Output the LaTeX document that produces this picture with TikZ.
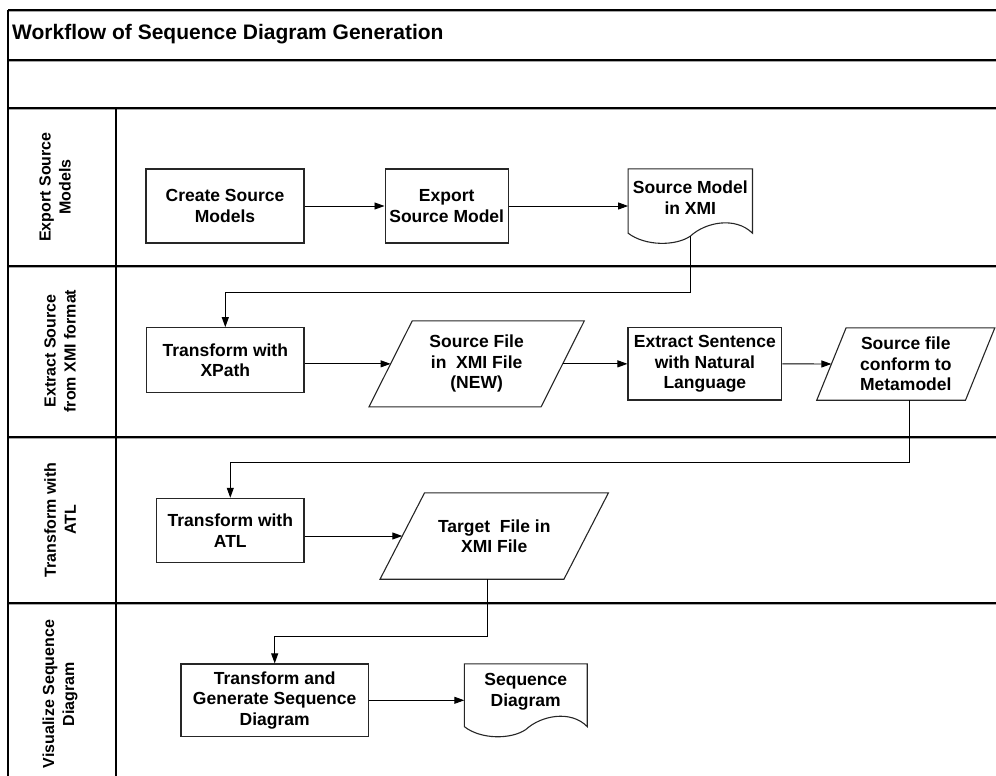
\documentclass[tikz,border=0pt]{standalone}
\usepackage{fontspec}
\setmainfont{Liberation Sans}
\usetikzlibrary{arrows.meta,calc}

% outline of a parallelogram (data) around an invisible node; #2 = horizontal slant
\newcommand\paraoutline[2]{%
  \draw[shapeline] ($(#1.north west)+(#2/2,0)$) -- ($(#1.north east)+(#2/2,0)$)
    -- ($(#1.south east)+(-#2/2,0)$) -- ($(#1.south west)+(-#2/2,0)$) -- cycle;}
% outline of a document shape (wavy bottom) around an invisible node
\newcommand\docoutline[1]{%
  \draw[shapeline] ($(#1.south west)+(0,7)$) -- (#1.north west) -- (#1.north east)
    -- ($(#1.south east)+(0,7)$)
    .. controls ($(#1.south)+(45,-10)$) and ($(#1.south)+(15,-4)$) .. ($(#1.south)+(0,10)$)
    .. controls ($(#1.south)+(-15,20)$) and ($(#1.south)+(-45,20)$) .. ($(#1.south west)+(0,7)$)
    -- cycle;}

\begin{document}
\begin{tikzpicture}[x=1pt,y=-1pt,
  laneline/.style={line width=1.5pt, black},
  laneshade/.style={line width=0.9pt, black!35},
  shapeline/.style={line width=1.1pt, black!85},
  boxtext/.style={align=center, inner sep=0pt, font=\fontsize{17.5}{20.5}\selectfont\bfseries},
  procbox/.style={boxtext, draw=black!85, line width=1.1pt},
  datatext/.style={boxtext},
  lanelabel/.style={rotate=90, align=center, inner sep=0pt, font=\fontsize{16}{20}\selectfont\bfseries},
  arr/.style={-{Triangle[length=10pt,width=7pt]}, line width=0.9pt, black}]

\useasboundingbox (0,0) rectangle (996,776);

% pool frame and lane separators
\foreach \yy in {10,60,108,266,437,603}{
  \draw[laneshade] (8,\yy+1.6) -- (996,\yy+1.6);
  \draw[laneline] (8,\yy) -- (996,\yy);
}
\draw[laneline] (8,10) -- (8,776);
\draw[laneline] (116,108) -- (116,776);

% title
\node[anchor=base west, inner sep=0pt, font=\fontsize{21}{24}\selectfont\bfseries] (title) at (12,40)
  {Workflow of Sequence Diagram Generation};

% lane headers
\node[lanelabel] (lane1) at (55,187) {Export Source\\Models};
\node[lanelabel] (lane2) at (60,351) {Extract Source\\from XMI format};
\node[lanelabel] (lane3) at (60,520) {Transform with\\ATL};
\node[lanelabel] (lane4) at (60,694) {Visualize Sequence\\Diagram};

% lane 1: export source models
\node[procbox, minimum width=158pt, minimum height=74pt] (cs) at (225,206) {Create Source\\Models};
\node[procbox, minimum width=123.3pt, minimum height=74pt] (es) at (446.7,206) {Export\\Source Model};
\node[datatext, minimum width=124pt, minimum height=57pt] (sm) at (690.3,197.5) {Source Model\\in XMI};
\docoutline{sm}
\coordinate (smb) at ($(sm.south)+(0,10)$);

% lane 2: extract source from XMI
\node[procbox, minimum width=157.3pt, minimum height=64.6pt] (xp) at (225.3,360) {Transform with\\XPath};
\node[datatext, minimum width=171.7pt, minimum height=85.7pt] (sf) at (476.65,363.85) {Source File\\in\ \ XMI File\\(NEW)};
\paraoutline{sf}{43.3}
\node[procbox, minimum width=153.7pt, minimum height=72.3pt] (ex) at (704.85,363.85) {Extract Sentence\\with Natural\\Language};
\node[datatext, minimum width=148.35pt, minimum height=72pt] (sc) at (905.8,364) {Source file\\conform to\\Metamodel};
\paraoutline{sc}{29.35}

% lane 3: transform with ATL
\node[procbox, minimum width=147.3pt, minimum height=64.4pt] (atl) at (230.3,530.5) {Transform with\\ATL};
\node[datatext, minimum width=183.5pt, minimum height=86pt] (tf) at (494.25,536) {Target\ \ File in\\XMI File};
\paraoutline{tf}{44.5}

% lane 4: visualize sequence diagram
\node[procbox, minimum width=187.4pt, minimum height=72.7pt] (tg) at (274.7,700.3) {Transform and\\Generate Sequence\\Diagram};
\node[datatext, minimum width=122.5pt, minimum height=55.4pt] (sd) at (525.75,691.7) {Sequence\\Diagram};
\docoutline{sd}

% flow
\draw[arr] (cs.east) -- (es.west);
\draw[arr] (es.east) -- (es.east -| sm.west);
\draw[arr] (smb) -- ++(0,56) -| (xp.north);
\draw[arr] (xp.east |- sf.west) -- (sf.west);
\draw[arr] (sf.east) -- (ex.west);
\draw[arr] (ex.east) -- (sc.west);
\draw[arr] ($(sc.south)+(3.5,0)$) -- ++(0,62) -| (atl.north);
\draw[arr] (atl.east |- tf.west) -- (tf.west);
\draw[arr] ($(tf.south)+(-7,0)$) -- ++(0,57) -| (tg.north);
\draw[arr] (tg.east) -- (tg.east -| sd.west);

\end{tikzpicture}
\end{document}
